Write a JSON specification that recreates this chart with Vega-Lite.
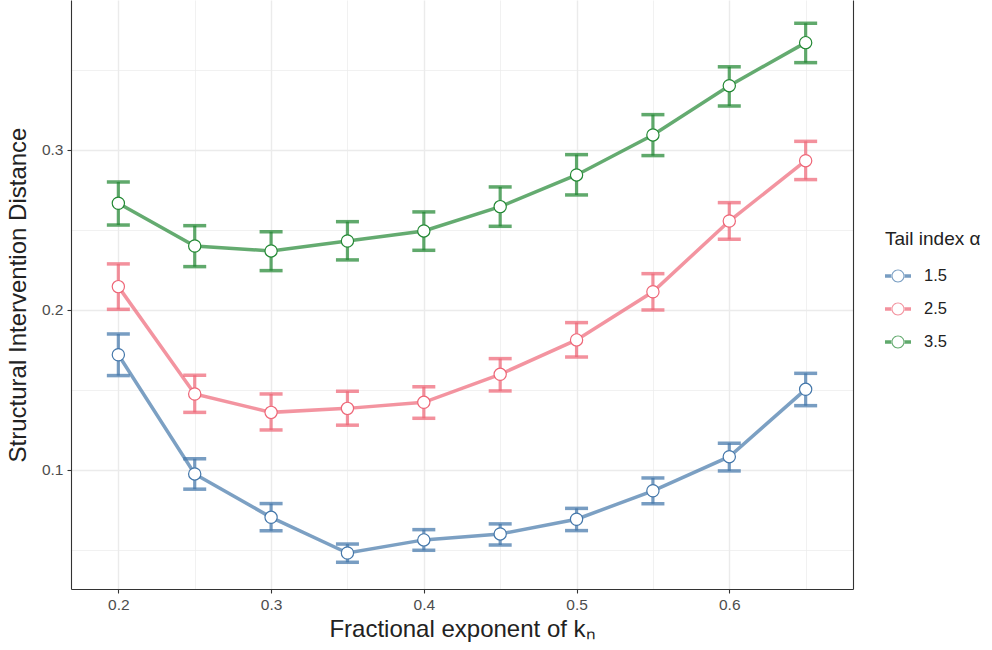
{
  "$schema": "https://vega.github.io/schema/vega-lite/v6.json",
  "width": 782,
  "height": 589,
  "autosize": "none",
  "padding": {"left": 71, "top": 0, "right": 139, "bottom": 61},
  "background": "white",
  "config": {
    "font": "Liberation Sans",
    "view": {"stroke": null},
    "axis": {
      "domainColor": "#333333",
      "domainWidth": 1.1,
      "tickColor": "#333333",
      "tickSize": 4,
      "tickWidth": 1.1,
      "labelColor": "#4d4d4d",
      "labelFontSize": 15.5,
      "labelFont": "Liberation Sans",
      "titleColor": "#222222",
      "titleFontSize": 24,
      "titleFontWeight": "normal",
      "titleFont": "Liberation Sans",
      "gridColor": "#ebebeb"
    }
  },
  "data": {
    "values": [
      {"k": 0.2, "alpha": "1.5", "sid": 0.172, "lo": 0.159, "hi": 0.185},
      {"k": 0.25, "alpha": "1.5", "sid": 0.0975, "lo": 0.088, "hi": 0.107},
      {"k": 0.3, "alpha": "1.5", "sid": 0.0704, "lo": 0.062, "hi": 0.079},
      {"k": 0.35, "alpha": "1.5", "sid": 0.0481, "lo": 0.0423, "hi": 0.0537},
      {"k": 0.4, "alpha": "1.5", "sid": 0.0563, "lo": 0.0498, "hi": 0.0627},
      {"k": 0.45, "alpha": "1.5", "sid": 0.06, "lo": 0.0531, "hi": 0.0663},
      {"k": 0.5, "alpha": "1.5", "sid": 0.0692, "lo": 0.0621, "hi": 0.076},
      {"k": 0.55, "alpha": "1.5", "sid": 0.087, "lo": 0.0789, "hi": 0.095},
      {"k": 0.6, "alpha": "1.5", "sid": 0.1083, "lo": 0.0994, "hi": 0.1167},
      {"k": 0.65, "alpha": "1.5", "sid": 0.1504, "lo": 0.1402, "hi": 0.1604},
      {"k": 0.2, "alpha": "2.5", "sid": 0.2146, "lo": 0.2004, "hi": 0.2288},
      {"k": 0.25, "alpha": "2.5", "sid": 0.1475, "lo": 0.136, "hi": 0.1592},
      {"k": 0.3, "alpha": "2.5", "sid": 0.136, "lo": 0.125, "hi": 0.1475},
      {"k": 0.35, "alpha": "2.5", "sid": 0.1385, "lo": 0.128, "hi": 0.1492},
      {"k": 0.4, "alpha": "2.5", "sid": 0.1423, "lo": 0.1323, "hi": 0.152},
      {"k": 0.45, "alpha": "2.5", "sid": 0.1598, "lo": 0.1494, "hi": 0.1696},
      {"k": 0.5, "alpha": "2.5", "sid": 0.1813, "lo": 0.1706, "hi": 0.1921},
      {"k": 0.55, "alpha": "2.5", "sid": 0.2114, "lo": 0.2, "hi": 0.2227},
      {"k": 0.6, "alpha": "2.5", "sid": 0.2556, "lo": 0.2442, "hi": 0.2671},
      {"k": 0.65, "alpha": "2.5", "sid": 0.2933, "lo": 0.2815, "hi": 0.3054},
      {"k": 0.2, "alpha": "3.5", "sid": 0.2667, "lo": 0.2531, "hi": 0.28},
      {"k": 0.25, "alpha": "3.5", "sid": 0.24, "lo": 0.2271, "hi": 0.2527},
      {"k": 0.3, "alpha": "3.5", "sid": 0.2369, "lo": 0.2246, "hi": 0.2489},
      {"k": 0.35, "alpha": "3.5", "sid": 0.2431, "lo": 0.2313, "hi": 0.2552},
      {"k": 0.4, "alpha": "3.5", "sid": 0.2494, "lo": 0.2373, "hi": 0.2613},
      {"k": 0.45, "alpha": "3.5", "sid": 0.2646, "lo": 0.2523, "hi": 0.2769},
      {"k": 0.5, "alpha": "3.5", "sid": 0.2844, "lo": 0.2719, "hi": 0.2971},
      {"k": 0.55, "alpha": "3.5", "sid": 0.3094, "lo": 0.2965, "hi": 0.3221},
      {"k": 0.6, "alpha": "3.5", "sid": 0.3402, "lo": 0.3275, "hi": 0.352},
      {"k": 0.65, "alpha": "3.5", "sid": 0.3671, "lo": 0.3546, "hi": 0.3792}
    ]
  },
  "encoding": {
    "x": {
      "field": "k",
      "type": "quantitative",
      "scale": {"domain": [0.169, 0.681], "nice": false, "zero": false},
      "axis": {
        "title": "Fractional exponent of kₙ",
        "values": [0.2, 0.25, 0.3, 0.35, 0.4, 0.45, 0.5, 0.55, 0.6, 0.65],
        "labelExpr": "abs(datum.value*10 - round(datum.value*10)) < 0.01 ? format(datum.value, '.1f') : ''",
        "tickColor": {"condition": {"test": "abs(datum.value*10 - round(datum.value*10)) < 0.01", "value": "#333333"}, "value": "transparent"},
        "gridWidth": {"condition": {"test": "abs(datum.value*10 - round(datum.value*10)) < 0.01", "value": 1.4}, "value": 0.7},
        "labelPadding": 4,
        "titlePadding": 5
      }
    },
    "color": {
      "field": "alpha",
      "type": "nominal",
      "scale": {"domain": ["1.5", "2.5", "3.5"], "range": ["#4477AA", "#EE6677", "#228833"]},
      "legend": {
        "title": "Tail index α",
        "orient": "none",
        "legendX": 814,
        "legendY": 230,
        "titleFontSize": 19,
        "titleFontWeight": "normal",
        "titleColor": "#222222",
        "titlePadding": 14,
        "labelFontSize": 16.5,
        "labelColor": "#222222",
        "labelOffset": 13,
        "rowPadding": 11,
        "symbolSize": 676,
        "symbolStrokeWidth": 0,
        "symbolType": "M-1,-0.14 L-0.47,-0.14 L-0.47,0.14 L-1,0.14 Z M0.47,-0.14 L1,-0.14 L1,0.14 L0.47,0.14 Z M-0.5,0 A0.5,0.5 0 1,0 0.5,0 A0.5,0.5 0 1,0 -0.5,0 Z M-0.42,0 A0.42,0.42 0 1,1 0.42,0 A0.42,0.42 0 1,1 -0.42,0 Z",
        "encode": {
          "symbols": {
            "update": {
              "fill": {"scale": "color", "field": "value"},
              "strokeWidth": {"value": 0},
              "opacity": {"value": 0.85}
            }
          }
        }
      }
    }
  },
  "layer": [
    {
      "mark": {"type": "errorbar", "ticks": {"size": 23, "thickness": 3.5}, "thickness": 3.2, "opacity": 0.72},
      "encoding": {
        "y": {
          "field": "lo",
          "type": "quantitative",
          "scale": {"domain": [0.0256, 0.39375], "nice": false, "zero": false},
          "axis": {
            "title": "Structural Intervention Distance",
            "values": [0.05, 0.1, 0.15, 0.2, 0.25, 0.3, 0.35],
            "labelExpr": "abs(datum.value*10 - round(datum.value*10)) < 0.01 ? format(datum.value, '.1f') : ''",
            "tickColor": {"condition": {"test": "abs(datum.value*10 - round(datum.value*10)) < 0.01", "value": "#333333"}, "value": "transparent"},
            "gridWidth": {"condition": {"test": "abs(datum.value*10 - round(datum.value*10)) < 0.01", "value": 1.4}, "value": 0.7},
            "labelPadding": 4,
            "titlePadding": 11
          }
        },
        "y2": {"field": "hi"}
      }
    },
    {
      "mark": {"type": "line", "strokeWidth": 3.5, "opacity": 0.7},
      "encoding": {
        "y": {"field": "sid", "type": "quantitative", "axis": null}
      }
    },
    {
      "mark": {"type": "point", "filled": false, "fill": "white", "fillOpacity": 1, "opacity": 1, "size": 150, "strokeWidth": 1.2},
      "encoding": {
        "y": {
          "field": "sid",
          "type": "quantitative",
          "axis": {"orient": "right", "labels": false, "ticks": false, "grid": false, "title": null, "domainColor": "#333333", "domainWidth": 1.1}
        }
      }
    }
  ],
  "resolve": {"axis": {"y": "independent"}}
}
